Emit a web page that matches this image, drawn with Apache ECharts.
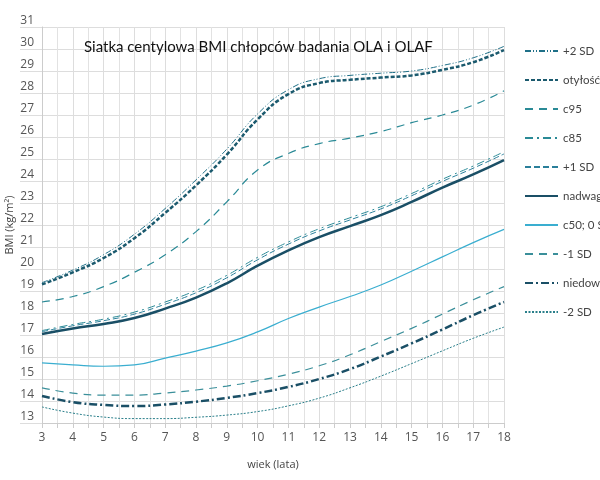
<!DOCTYPE html>
<html>
<head>
<meta charset="utf-8">
<script src="https://cdn.jsdelivr.net/npm/echarts@6/dist/echarts.min.js"></script>
<style>
  html, body { margin: 0; padding: 0; background: #fff; }
  #BmiChart { width: 600px; height: 480px; }
</style>
</head>
<body>
<div id="BmiChart"></div>
<script>
// wiek (lata)
const ages = [3, 4, 5, 6, 7, 8, 9, 10, 11, 12, 13, 14, 15, 16, 17, 18]

const plus2sd = [19.38, 19.95, 20.65, 21.58, 22.75, 24.05, 25.45, 27.05, 28.15, 28.65, 28.8, 28.9, 29.0, 29.25, 29.6, 30.12]
const otylosc = [19.3, 19.85, 20.5, 21.4, 22.55, 23.8, 25.2, 26.8, 27.95, 28.45, 28.6, 28.7, 28.8, 29.05, 29.4, 29.95]
const c95 = [18.5, 18.75, 19.2, 19.85, 20.65, 21.7, 23.05, 24.5, 25.25, 25.7, 25.95, 26.25, 26.65, 27.0, 27.45, 28.1]
const c85 = [17.2, 17.48, 17.72, 18.04, 18.5, 19.03, 19.71, 20.53, 21.23, 21.83, 22.33, 22.83, 23.43, 24.08, 24.68, 25.33]
const plus1sd = [17.15, 17.42, 17.65, 17.95, 18.4, 18.92, 19.6, 20.42, 21.13, 21.73, 22.23, 22.73, 23.33, 23.98, 24.58, 25.23]
const nadwaga = [17.05, 17.3, 17.5, 17.77, 18.2, 18.7, 19.35, 20.15, 20.85, 21.45, 21.95, 22.45, 23.05, 23.7, 24.3, 24.95]
const c50 = [15.73, 15.64, 15.58, 15.64, 15.95, 16.27, 16.64, 17.14, 17.75, 18.27, 18.75, 19.27, 19.9, 20.55, 21.2, 21.8]
const minus1sd = [14.6, 14.36, 14.27, 14.27, 14.36, 14.5, 14.68, 14.92, 15.22, 15.6, 16.1, 16.7, 17.3, 17.95, 18.6, 19.2]
const niedowaga = [14.23, 13.95, 13.82, 13.77, 13.84, 13.97, 14.14, 14.36, 14.64, 15.0, 15.45, 16.02, 16.62, 17.25, 17.9, 18.5]
const minus2sd = [13.73, 13.45, 13.27, 13.2, 13.2, 13.26, 13.36, 13.52, 13.78, 14.13, 14.6, 15.13, 15.7, 16.28, 16.85, 17.36]

function pairs(values) {
  return ages.map((a, i) => [a, values[i]])
}

function line(name, values, color, width, type) {
  return {
    name: name,
    type: 'line',
    smooth: true,
    symbol: 'none',
    data: pairs(values),
    itemStyle: { color: color },
    lineStyle: { color: color, width: width, type: type }
  }
}

const chart = echarts.init(document.getElementById('BmiChart'))
chart.setOption({
  animation: false,
  textStyle: { fontFamily: 'Open Sans' },
  title: {
    text: 'Siatka centylowa BMI chłopców badania OLA i OLAF',
    left: 79,
    top: 35,
    textStyle: { fontSize: 15, fontWeight: 'normal', color: '#111', fontFamily: 'Lato' }
  },
  legend: {
    orient: 'vertical',
    left: 519,
    top: 40,
    itemWidth: 33,
    itemHeight: 14,
    itemGap: 17,
    itemStyle: { opacity: 0 },
    textStyle: { fontSize: 11.5, color: '#444', fontFamily: 'Lato' }
  },
  grid: { left: 42, right: 96, top: 27, bottom: 57, outerBoundsMode: 'none' },
  xAxis: {
    type: 'value',
    min: 3,
    max: 18,
    interval: 1,
    name: 'wiek (lata)',
    nameLocation: 'middle',
    nameGap: 36,
    nameMoveOverlap: false,
    nameTextStyle: { fontSize: 11, color: '#444' },
    axisLine: { lineStyle: { color: '#ccc' } },
    axisTick: { length: 5, lineStyle: { color: '#ccc' } },
    minorTick: { show: true, splitNumber: 2, length: 5, lineStyle: { color: '#ccc' } },
    axisLabel: { fontSize: 12, color: '#555', margin: 9 },
    splitLine: { lineStyle: { color: '#ddd' } },
    minorSplitLine: { show: true, lineStyle: { color: '#e2e2e2' } }
  },
  yAxis: {
    type: 'value',
    min: 13,
    max: 31,
    interval: 1,
    name: 'BMI (kg/m²)',
    nameLocation: 'middle',
    nameGap: 27,
    nameMoveOverlap: false,
    nameTextStyle: { fontSize: 11, color: '#444' },
    axisLine: { show: true, lineStyle: { color: '#ccc' } },
    axisTick: { length: 22, lineStyle: { color: '#ddd' } },
    axisLabel: { fontSize: 12, color: '#555', margin: 8, verticalAlign: 'bottom' },
    splitLine: { lineStyle: { color: '#ddd' } }
  },
  series: [
    line('+2 SD', plus2sd, '#1f7088', 1, [6, 2, 1, 2, 1, 2]),
    line('otyłość', otylosc, '#1b5a6e', 2.5, [4, 2]),
    line('c95', c95, '#2a8a96', 1.2, [8, 6]),
    line('c85', c85, '#2a8a96', 1, [8, 4, 2, 4]),
    line('+1 SD', plus1sd, '#2a7f9a', 1, [6, 3]),
    line('nadwaga', nadwaga, '#1a4f66', 2.5, 'solid'),
    line('c50; 0 SD', c50, '#3aaed0', 1.2, 'solid'),
    line('-1 SD', minus1sd, '#3a8f9a', 1.2, [8, 6]),
    line('niedowaga', niedowaga, '#1a4f66', 2.5, [8, 3, 2, 3]),
    line('-2 SD', minus2sd, '#2a7f8a', 1, [2, 1.5])
  ]
})
</script>
</body>
</html>
